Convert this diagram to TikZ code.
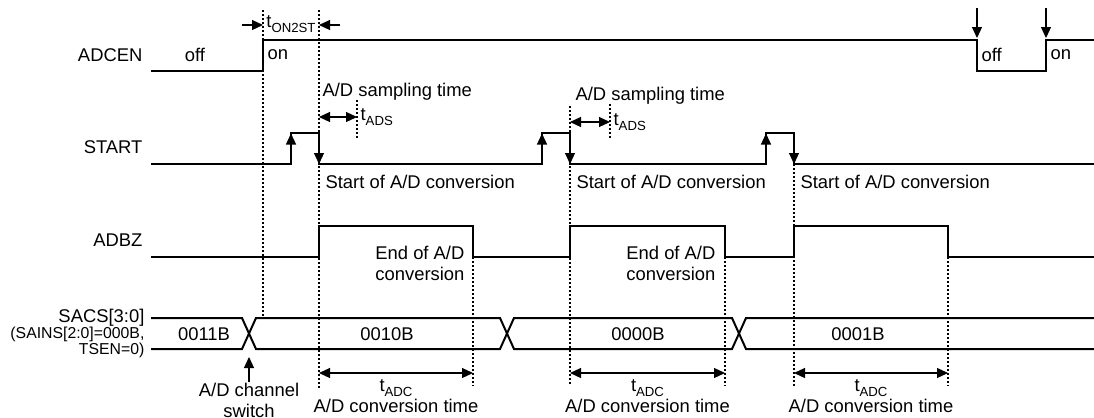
\documentclass[tikz,border=0pt]{standalone}
\usepackage{fontspec}
\setmainfont{Liberation Sans}
\usepackage{tikz}
\usetikzlibrary{arrows.meta}

\newcommand{\tsub}[1]{t\raisebox{-0.45ex}{\fontsize{6.6}{7}\selectfont #1}}

\begin{document}
\begin{tikzpicture}[x=0.5pt,y=-0.5pt,>={Triangle[length=5.5pt,width=5pt]},
                    semithick]
  \tikzstyle{every node}=[font=\fontsize{9.2}{10.5}\selectfont,inner sep=0pt]
  \tikzstyle{wave}=[line width=1pt]
  \tikzstyle{guide}=[line width=0.6pt,dash pattern=on 1pt off 1pt]
\useasboundingbox (0,0) rectangle (1094,418);

% signal names
\node [anchor=east] (adcen) at (143,55) {ADCEN};
\node [anchor=east] (start) at (143,147) {START};
\node [anchor=east] (adbz) at (143,240) {ADBZ};
\node [anchor=east] (sacs) at (145,318) {SACS[3:0]};
\node [anchor=east,align=right,font=\fontsize{7.9}{8}\selectfont] (sains) at (145,342)
  {(SAINS[2:0]=000B,\\TSEN=0)};

% ADCEN
\draw [wave] (151,71) -- (263,71) -- (263,40) -- (977,40) -- (977,71)
  -- (1046,71) -- (1046,40) -- (1094,40);
\node (off1) at (195,55) {off};
\node [anchor=west] (on1) at (267,55) {on};
\node [anchor=west] (off2) at (981,55) {off};
\node [anchor=west] (on2) at (1050,55) {on};
\draw [->] (977,8) -- (977,38);
\draw [->] (1046,8) -- (1046,38);

% t_ON2ST
\draw [guide] (263,10) -- (263,318);
\draw [guide] (319,10) -- (319,388);
\draw [->] (242,25) -- (263,25);
\draw [->] (340,25) -- (319,25);
\node (ton2st) at (291,24) {\tsub{ON2ST}};

% START
\draw [wave] (151,164) -- (291,164) -- (291,133) -- (319,133) -- (319,164)
  -- (542,164) -- (542,133) -- (570,133) -- (570,164)
  -- (766,164) -- (766,133) -- (794,133) -- (794,164) -- (1094,164);
\foreach \r/\f in {291/319,542/570,766/794}{
  \draw [->] (\r,152) -- (\r,133.5);
  \draw [->] (\f,150) -- (\f,164);
  \node [anchor=west] at (\f+6,182) {Start of A/D conversion};
}

% sampling time
\node [anchor=west] (samp1) at (322,92) {A/D sampling time};
\draw [guide] (357,100) -- (357,139);
\draw [<->] (319,117) -- (357,117);
\node [anchor=west] (tads1) at (360,117) {\tsub{ADS}};
\node [anchor=west] (samp2) at (575,96) {A/D sampling time};
\draw [guide] (570,106) -- (570,386);
\draw [guide] (610,104) -- (610,139);
\draw [<->] (570,122) -- (610,122);
\node [anchor=west] (tads2) at (613,122) {\tsub{ADS}};
\draw [guide] (794,164) -- (794,387);

% ADBZ
\draw [wave] (151,257) -- (319,257) -- (319,226) -- (473,226) -- (473,257)
  -- (570,257) -- (570,226) -- (725,226) -- (725,257)
  -- (794,257) -- (794,226) -- (948,226) -- (948,257) -- (1094,257);
\node [anchor=east,align=right] (end1) at (465,263) {End of A/D\\conversion};
\node [anchor=east,align=right] (end2) at (716,263) {End of A/D\\conversion};
\foreach \e in {473,725,948}
  \draw [guide] (\e,257) -- (\e,386);

% SACS
\draw [wave] (151,318) -- (242,318) -- (256,349) -- (500,349) -- (514,318)
  -- (732,318) -- (746,349) -- (1094,349);
\draw [wave] (151,349) -- (242,349) -- (256,318) -- (500,318) -- (514,349)
  -- (732,349) -- (746,318) -- (1094,318);
\node (v0) at (204,334) {0011B};
\node (v1) at (387,334) {0010B};
\node (v2) at (638,334) {0000B};
\node (v3) at (858,334) {0001B};
\draw [->] (249,382) -- (249,357);
\node [align=center] (chsw) at (249,400) {A/D channel\\switch};

% conversion time
\foreach \a/\b in {319/473,570/725,794/948}{
  \draw [<->] (\a,373) -- (\b,373);
  \node at ({(\a+\b)/2},388) {\tsub{ADC}};
  \node at ({(\a+\b)/2},406) {A/D conversion time};
}

\end{tikzpicture}
\end{document}
